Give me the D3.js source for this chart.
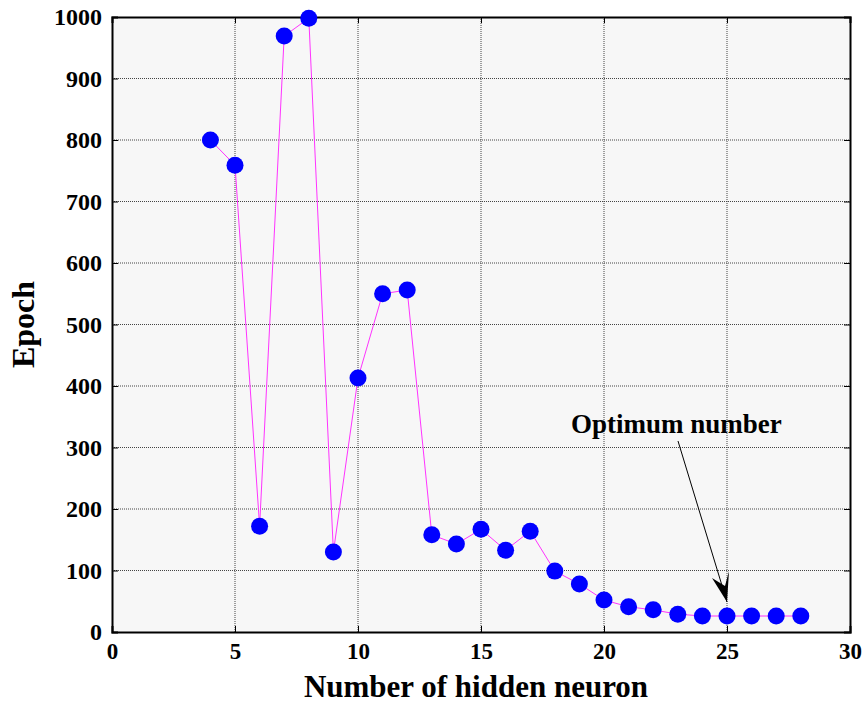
<!DOCTYPE html>
<html>
<head>
<meta charset="utf-8">
<script src="https://cdn.jsdelivr.net/npm/d3@7"></script>
<style>
body{margin:0;background:#fff;}
text{font-family:"Liberation Serif","Times New Roman",serif;font-weight:bold;}
</style>
</head>
<body>
<svg id="chart" width="864" height="704"></svg>
<script>
// data
var neurons = [4,5,6,7,8,9,10,11,12,13,14,15,16,17,18,19,20,21,22,23,24,25,26,27,28];
var epochs  = [800,759,172,969,998,130,413,550,556,158,143,167,133,164,99,78,52,41,36,29,26,26,26,26,26];
var xTicks = [0,5,10,15,20,25,30];
var yTicks = [0,100,200,300,400,500,600,700,800,900,1000];

var svg = d3.select("#chart");
var pLeft=112, pRight=850, pTop=17, pBottom=632;

var x = d3.scaleLinear().domain([0,30]).range([pLeft,pRight]);
var y = d3.scaleLinear().domain([0,1000]).range([pBottom,pTop]);

svg.append("rect")
    .attr("x",pLeft).attr("y",pTop)
    .attr("width",pRight-pLeft).attr("height",pBottom-pTop)
    .attr("fill","#f7f7f7");

// grid
svg.selectAll(".gx").data(xTicks.slice(1,-1)).enter().append("line")
    .attr("x1",function(d){return x(d);}).attr("x2",function(d){return x(d);})
    .attr("y1",pTop).attr("y2",pBottom)
    .attr("stroke","#444").attr("stroke-width",1).attr("stroke-dasharray","1,1");
svg.selectAll(".gy").data(yTicks.slice(1,-1)).enter().append("line")
    .attr("y1",function(d){return y(d);}).attr("y2",function(d){return y(d);})
    .attr("x1",pLeft).attr("x2",pRight)
    .attr("stroke","#444").attr("stroke-width",1).attr("stroke-dasharray","1,1");

// axes with inward ticks
svg.append("g").attr("transform","translate(0,"+pBottom+")")
    .call(d3.axisBottom(x).tickValues(xTicks).tickSize(-6).tickPadding(11).tickFormat(d3.format("d")))
    .call(function(g){
        g.select(".domain").attr("stroke-width",2);
        g.selectAll("text").style("font-size","23px").attr("fill","#000");
    });
svg.append("g").attr("transform","translate("+pLeft+",0)")
    .call(d3.axisLeft(y).tickValues(yTicks).tickSize(-6).tickPadding(10).tickFormat(d3.format("d")))
    .call(function(g){
        g.select(".domain").attr("stroke-width",2);
        g.selectAll("text").style("font-size","24px").attr("fill","#000");
    });
svg.append("g").attr("transform","translate(0,"+pTop+")")
    .call(d3.axisTop(x).tickValues(xTicks).tickSize(-6).tickFormat(""))
    .call(function(g){g.select(".domain").attr("stroke-width",2);});
svg.append("g").attr("transform","translate("+pRight+",0)")
    .call(d3.axisRight(y).tickValues(yTicks).tickSize(-6).tickFormat(""))
    .call(function(g){g.select(".domain").attr("stroke-width",2);});

// series
var line = d3.line().x(function(d,i){return x(neurons[i]);}).y(function(d){return y(d);});
svg.append("path").datum(epochs)
    .attr("d",line).attr("fill","none")
    .attr("stroke","#ff33ff").attr("stroke-width",1);

svg.selectAll(".dot").data(epochs).enter().append("circle")
    .attr("cx",function(d,i){return x(neurons[i]);})
    .attr("cy",function(d){return y(d);})
    .attr("r",8.5)
    .attr("fill","#0000ff");

// annotation arrow
var tipX = x(25), tipY = y(26)-14;
svg.append("line")
    .attr("x1",678).attr("y1",441)
    .attr("x2",tipX).attr("y2",tipY)
    .attr("stroke","#000").attr("stroke-width",1);
svg.append("path")
    .attr("d","M"+tipX+","+tipY+" L712,578 L725,586 L729,571 Z")
    .attr("fill","#000");

svg.append("text")
    .attr("x",571).attr("y",433)
    .style("font-size","27px")
    .text("Optimum number");

// axis titles
svg.append("text")
    .attr("x",476).attr("y",697)
    .attr("text-anchor","middle")
    .style("font-size","31px")
    .text("Number of hidden neuron");
svg.append("text")
    .attr("transform","translate(34,"+((pTop+pBottom)/2)+") rotate(-90)")
    .attr("text-anchor","middle")
    .style("font-size","32px")
    .text("Epoch");
</script>
</body>
</html>
